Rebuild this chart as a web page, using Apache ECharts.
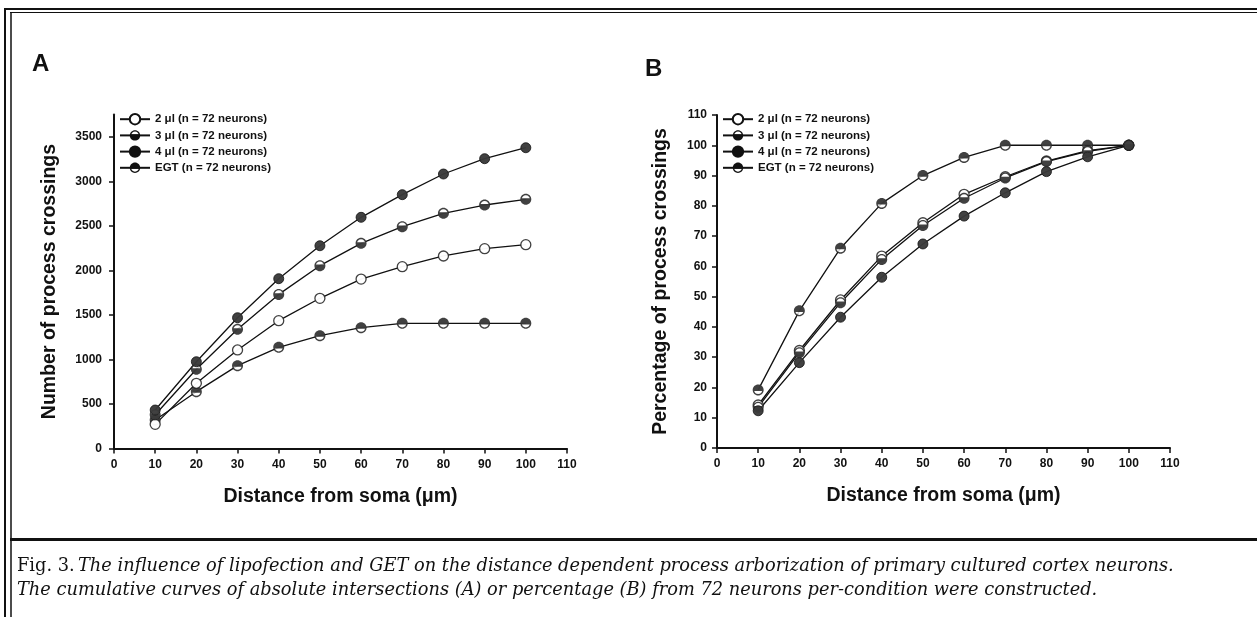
<!DOCTYPE html>
<html>
<head>
<meta charset="utf-8">
<script src="https://cdn.jsdelivr.net/npm/echarts@6/dist/echarts.min.js"></script>
<style>
  html, body { margin: 0; padding: 0; background: #fff; }
  #main { width: 1257px; height: 617px; }
</style>
</head>
<body>
<div id="main"></div>
<script>
// distances from soma (um)
const dist = [10, 20, 30, 40, 50, 60, 70, 80, 90, 100];

// panel A: number of process crossings
const a2ul = [272, 733, 1107, 1436, 1687, 1903, 2042, 2162, 2244, 2289];
const a3ul = [380, 890, 1339, 1731, 2053, 2304, 2491, 2641, 2734, 2798];
const a4ul = [433, 975, 1469, 1907, 2277, 2596, 2850, 3082, 3254, 3377];
const aEGT = [321, 639, 931, 1137, 1267, 1357, 1406, 1406, 1406, 1406];

// panel B: percentage of process crossings
const b2ul = [14.2, 32.2, 48.9, 63.4, 74.4, 83.8, 89.6, 94.8, 98.2, 100];
const b3ul = [13.5, 31.5, 48.0, 62.3, 73.5, 82.5, 89.2, 94.6, 98.0, 100];
const b4ul = [12.3, 28.2, 43.2, 56.4, 67.4, 76.6, 84.3, 91.3, 96.2, 100];
const bEGT = [19.2, 45.3, 66.0, 80.8, 90.0, 96.0, 100, 100, 100, 100];

const yTicksA = [0, 500, 1000, 1500, 2000, 2500, 3000, 3500];
const names = ['2 μl (n = 72 neurons)', '3 μl (n = 72 neurons)', '4 μl (n = 72 neurons)', 'EGT (n = 72 neurons)'];

const FONT = 'Liberation Sans, Arial, sans-serif';
const INK = '#111';

// circle out of bezier curves, cw or ccw
function circ(r, cw) {
  const k = (0.5523 * r).toFixed(3);
  if (cw) {
    return `M0,-${r}C${k},-${r} ${r},-${k} ${r},0C${r},${k} ${k},${r} 0,${r}C-${k},${r} -${r},${k} -${r},0C-${r},-${k} -${k},-${r} 0,-${r}Z`;
  }
  return `M0,-${r}C-${k},-${r} -${r},-${k} -${r},0C-${r},${k} -${k},${r} 0,${r}C${k},${r} ${r},${k} ${r},0C${r},-${k} ${k},-${r} 0,-${r}Z`;
}
const RI = 7.5;
const KI = (0.5523 * RI).toFixed(3);
// ring; nonzero winding leaves the inside empty, half disc fills one side
const RING = circ(10, true) + ' ' + circ(RI, false);
const TOP_HALF = 'path://' + RING +
  ` M-${RI},2L-${RI},0C-${RI},-${KI} -${KI},-${RI} 0,-${RI}C${KI},-${RI} ${RI},-${KI} ${RI},0L${RI},2Z`;
const BOTTOM_HALF = 'path://' + RING +
  ` M${RI},-2L${RI},0C${RI},${KI} ${KI},${RI} 0,${RI}C-${KI},${RI} -${RI},${KI} -${RI},0L-${RI},-2Z`;

const styles = [
  {symbol: 'circle', size: 10, item: {color: '#fff', borderColor: INK, borderWidth: 1.3}},
  {symbol: BOTTOM_HALF, size: 11, item: {color: INK, borderWidth: 0}},
  {symbol: 'circle', size: 10, item: {color: INK, borderColor: INK, borderWidth: 1}},
  {symbol: TOP_HALF, size: 11, item: {color: INK, borderWidth: 0}}
];

function pts(vals) {
  return dist.map((d, i) => [d, vals[i]]);
}

function panelSeries(idx, sets) {
  const out = [];
  sets.forEach((vals, k) => {
    out.push({
      name: names[k],
      type: 'line',
      xAxisIndex: idx, yAxisIndex: idx,
      data: pts(vals),
      symbol: styles[k].symbol,
      showSymbol: false,
      itemStyle: styles[k].item,
      lineStyle: {color: INK, width: 1.3},
      z: 2,
      silent: true
    });
  });
  // markers over all the lines; order EGT, 2, 3, 4
  [3, 0, 1, 2].forEach((k, j) => {
    out.push({
      name: 'base' + idx + k,
      type: 'scatter',
      xAxisIndex: idx, yAxisIndex: idx,
      data: pts(sets[k]),
      symbol: 'circle', symbolSize: 10,
      itemStyle: {color: '#fff', borderWidth: 0},
      z: 10 + j * 2,
      silent: true
    });
    out.push({
      name: 'mark' + idx + k,
      type: 'scatter',
      xAxisIndex: idx, yAxisIndex: idx,
      data: pts(sets[k]),
      symbol: styles[k].symbol, symbolSize: styles[k].size,
      itemStyle: styles[k].item,
      z: 11 + j * 2,
      silent: true
    });
  });
  return out;
}

const labelStyle = {fontFamily: FONT, fontWeight: 'bold', fontSize: 12, color: INK};
const nameStyle = {fontFamily: FONT, fontWeight: 'bold', fontSize: 19.5, color: INK};
const lineStyle = {lineStyle: {color: INK, width: 2}};
const tickStyle = {show: true, length: 5, lineStyle: {color: INK, width: 1.5}};
const plain = v => String(v);

function xAxis(idx) {
  return {
    type: 'value', gridIndex: idx, min: 0, max: 110, interval: 10,
    axisLine: lineStyle, axisTick: tickStyle,
    axisLabel: Object.assign({margin: 10, formatter: plain}, labelStyle),
    splitLine: {show: false},
    name: 'Distance from soma (μm)', nameLocation: 'middle', nameGap: 38,
    nameTextStyle: nameStyle
  };
}

const legendBase = {
  orient: 'vertical', itemWidth: 30, itemHeight: 13, itemGap: 4,
  data: names, selectedMode: false,
  textStyle: {fontFamily: FONT, fontWeight: 'bold', fontSize: 11.5, color: INK}
};

const caption1 = '{n|Fig. 3.} {i|The influence of lipofection and GET on the distance dependent process arborization of primary cultured cortex neurons.}';
const caption2 = '{i|The cumulative curves of absolute intersections (A) or percentage (B) from 72 neurons per-condition were constructed.}';

const chart = echarts.init(document.getElementById('main'));
chart.setOption({
  backgroundColor: '#fff',
  animation: false,
  grid: [
    {left: 114, right: 690, top: 114.5, bottom: 168.4},
    {left: 717, right: 87, top: 115, bottom: 169}
  ],
  xAxis: [xAxis(0), xAxis(1)],
  yAxis: [
    {
      type: 'value', gridIndex: 0, min: 0, max: 3750, interval: 250,
      axisLine: Object.assign({show: true}, lineStyle),
      axisTick: Object.assign({customValues: yTicksA}, tickStyle),
      axisLabel: Object.assign({margin: 12, customValues: yTicksA, formatter: plain}, labelStyle),
      splitLine: {show: false},
      name: 'Number of process crossings', nameLocation: 'middle', nameGap: 54,
      nameTextStyle: nameStyle
    },
    {
      type: 'value', gridIndex: 1, min: 0, max: 110, interval: 10,
      axisLine: Object.assign({show: true}, lineStyle),
      axisTick: tickStyle,
      axisLabel: Object.assign({margin: 10, formatter: plain}, labelStyle),
      splitLine: {show: false},
      name: 'Percentage of process crossings', nameLocation: 'middle', nameGap: 46,
      nameTextStyle: nameStyle
    }
  ],
  legend: [
    Object.assign({left: 114, top: 108}, legendBase),
    Object.assign({left: 717, top: 108}, legendBase)
  ],
  series: panelSeries(0, [a2ul, a3ul, a4ul, aEGT]).concat(panelSeries(1, [b2ul, b3ul, b4ul, bEGT])),
  graphic: [
    // frame
    {type: 'line', shape: {x1: 4, y1: 9, x2: 1257, y2: 9}, style: {stroke: '#111', lineWidth: 2}, silent: true},
    {type: 'line', shape: {x1: 10, y1: 12.5, x2: 1257, y2: 12.5}, style: {stroke: '#111', lineWidth: 1.2}, silent: true},
    {type: 'line', shape: {x1: 5, y1: 8, x2: 5, y2: 617}, style: {stroke: '#111', lineWidth: 2}, silent: true},
    {type: 'line', shape: {x1: 11, y1: 12, x2: 11, y2: 617}, style: {stroke: '#111', lineWidth: 1.5}, silent: true},
    {type: 'line', shape: {x1: 10, y1: 539.5, x2: 1257, y2: 539.5}, style: {stroke: '#111', lineWidth: 3}, silent: true},
    // panel letters
    {type: 'text', left: 32, top: 52, style: {text: 'A', font: 'bold 24px ' + FONT, fill: INK}},
    {type: 'text', left: 645, top: 57, style: {text: 'B', font: 'bold 24px ' + FONT, fill: INK}},
    // caption
    {
      type: 'text', left: 17, top: 554,
      style: {
        text: caption1 + '\n' + caption2,
        fill: '#111',
        lineHeight: 24,
        rich: {
          n: {fontFamily: 'DejaVu Serif', fontSize: 17.8, fontStyle: 'normal', lineHeight: 24, fill: '#111'},
          i: {fontFamily: 'DejaVu Serif', fontSize: 17.8, fontStyle: 'italic', lineHeight: 24, fill: '#111'}
        }
      }
    }
  ]
});
</script>
</body>
</html>
